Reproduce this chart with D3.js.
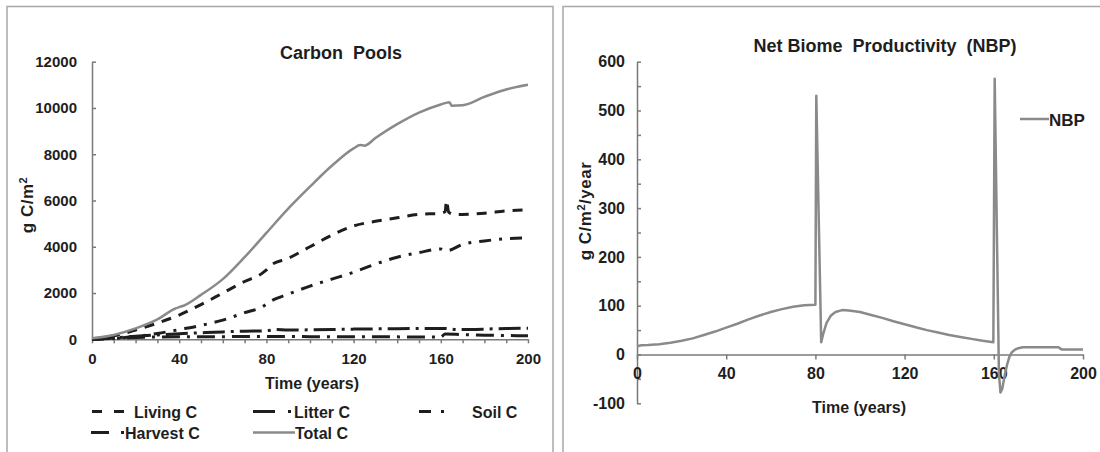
<!DOCTYPE html>
<html>
<head>
<meta charset="utf-8">
<script src="https://cdn.jsdelivr.net/npm/d3@7"></script>
<style>
  body { margin: 0; background: #fff; }
  svg { display: block; font-family: "Liberation Sans", Arial, sans-serif; font-weight: bold; }
</style>
</head>
<body>
<script>
// Carbon pools (g C/m2), [year, value]
const totalC = [[0,50],[10,190],[20,470],[30,860],[38,1320],[40,1390],[42,1450],[50,1920],[60,2600],[70,3550],[80,4600],[90,5650],[100,6600],[110,7500],[120,8250],[123,8400],[125,8370],[130,8700],[140,9300],[150,9800],[160,10150],[164,10250],[165,10100],[170,10120],[180,10480],[190,10800],[200,11000]];
const livingC = [[0,20],[10,150],[20,400],[30,700],[40,1050],[50,1500],[60,2000],[70,2500],[78,2850],[80,3000],[82,3200],[90,3500],[100,4000],[110,4500],[120,4900],[130,5100],[140,5250],[150,5400],[160,5450],[162,5520],[162.6,6000],[163.6,5500],[166,5400],[170,5400],[180,5450],[190,5550],[200,5600]];
const soilC = [[0,0],[10,40],[20,120],[30,250],[40,420],[50,600],[60,830],[70,1150],[78,1400],[82,1650],[90,1950],[100,2300],[110,2600],[120,2900],[130,3250],[140,3550],[150,3750],[160,3900],[162,3820],[164,3850],[170,4100],[180,4250],[190,4350],[200,4380]];
const litterC = [[0,0],[10,60],[20,130],[30,190],[40,240],[50,280],[60,320],[70,350],[80,370],[84,420],[90,400],[100,410],[120,440],[140,460],[160,470],[163,460],[168,420],[180,440],[190,470],[200,480]];
const harvestC = [[0,0],[15,60],[30,100],[50,110],[80,120],[100,115],[120,110],[140,105],[160,100],[162,230],[170,200],[180,180],[190,165],[200,150]];

// Net biome productivity (g C/m2/year), [year, value]
const nbp = [[0,17],[2,19],[5,19.5],[10,21],[15,24],[20,28],[25,33],[30,40],[35,47],[40,55],[45,63],[50,72],[55,80],[60,87],[65,93],[70,98],[75,101],[80,102],
    [80.4,530],[82.6,25],[83.5,42],[85,65],[87,80],[89,87],[92,91],[95,90],[100,87],[105,81],[110,75],[115,68],[120,62],[125,56],[130,50],[135,45],[140,40],[145,36],[150,32],[155,28],[159.8,25],
    [160.4,565],[162.3,-40],[163,-78],[163.8,-70],[165,-40],[166,-20],[167,-5],[168,4],[169.5,10],[171,13],[173,15],[189,15],[190.5,10],[200,10]];

const poolTicks = d3.range(0, 12001, 2000);
const timeTicks = [0, 40, 80, 120, 160, 200];
const nbpTicks = d3.range(-100, 601, 50);

const ink = "#1e1e1e", axisCol = "#7a7a7a", grey = "#8a8a8a";

const svg = d3.select("body").append("svg")
    .attr("width", 1100)
    .attr("height", 452);

// panel frames
svg.append("rect").attr("x", 7).attr("y", 6.5).attr("width", 546).attr("height", 470)
    .attr("fill", "none").attr("stroke", "#a8a8a8").attr("stroke-width", 1.5);
svg.append("rect").attr("x", 563).attr("y", 6.5).attr("width", 560).attr("height", 470)
    .attr("fill", "none").attr("stroke", "#a8a8a8").attr("stroke-width", 1.5);

// ---------- left: Carbon Pools ----------
const x1 = d3.scaleLinear().domain([0, 200]).range([92, 528]);
const y1 = d3.scaleLinear().domain([0, 12000]).range([339.3, 61.7]);

const line1 = d3.line()
    .x(d => x1(d[0]))
    .y(d => y1(d[1]))
    .curve(d3.curveMonotoneX);

const series = [
    {name: "Living C", data: livingC, color: ink, width: 3, dash: "10,8"},
    {name: "Litter C", data: litterC, color: ink, width: 3, dash: "22,6,3,6"},
    {name: "Soil C", data: soilC, color: ink, width: 3, dash: "12,8,3,8"},
    {name: "Harvest C", data: harvestC, color: ink, width: 3, dash: "18,7,3,7"},
    {name: "Total C", data: totalC, color: grey, width: 2.5, dash: null}
];

const gL = svg.append("g");

gL.append("g")
    .attr("transform", `translate(0, ${y1(0)})`)
    .call(d3.axisBottom(x1).tickValues(d3.range(0, 201, 10))
        .tickFormat(d => d % 40 === 0 ? d : "")
        .tickSize(4).tickSizeOuter(0).tickPadding(10))
    .call(styleAxis, 15);

gL.append("g")
    .attr("transform", `translate(${x1(0)}, 0)`)
    .call(d3.axisLeft(y1).tickValues(poolTicks).tickFormat(d3.format("d"))
        .tickSize(-4).tickSizeOuter(0).tickPadding(15))
    .call(styleAxis, 15);

series.forEach(s => {
    gL.append("path")
        .datum(s.data)
        .attr("fill", "none")
        .attr("stroke", s.color)
        .attr("stroke-width", s.width)
        .attr("stroke-dasharray", s.dash)
        .attr("d", line1);
});

gL.append("text")
    .attr("x", 341).attr("y", 59)
    .attr("text-anchor", "middle")
    .attr("font-size", 18).attr("fill", ink)
    .style("white-space", "pre")
    .text("Carbon  Pools");

gL.append("text")
    .attr("x", 312).attr("y", 389)
    .attr("text-anchor", "middle")
    .attr("font-size", 16).attr("fill", ink)
    .text("Time (years)");

const yt1 = gL.append("text")
    .attr("transform", "translate(33, 205) rotate(-90)")
    .attr("text-anchor", "middle")
    .attr("font-size", 17).attr("fill", ink)
    .attr("letter-spacing", 0.5);
yt1.append("tspan").text("g C/m");
yt1.append("tspan").attr("font-size", 11).attr("baseline-shift", "super").text("2");

// legend
const legendPos = [
    {x: 92, y: 411.5, len: 32, tx: 134},
    {x: 253, y: 411.5, len: 38, tx: 294},
    {x: 419, y: 411.5, len: 26, tx: 472},
    {x: 91, y: 432.5, len: 33, tx: 125},
    {x: 253, y: 432.5, len: 42, tx: 295}
];
const legDash = ["10,12", "22,13,3,20", "12,10,3,20", "18,12,3,20", null];

series.forEach((s, i) => {
    const p = legendPos[i];
    gL.append("line")
        .attr("x1", p.x).attr("x2", p.x + p.len)
        .attr("y1", p.y).attr("y2", p.y)
        .attr("stroke", s.color)
        .attr("stroke-width", s.width)
        .attr("stroke-dasharray", legDash[i]);
    gL.append("text")
        .attr("x", p.tx).attr("y", p.y + 6)
        .attr("font-size", 16).attr("fill", ink)
        .text(s.name);
});

// ---------- right: NBP ----------
const x2 = d3.scaleLinear().domain([0, 200]).range([637, 1083]);
const y2 = d3.scaleLinear().domain([-100, 600]).range([403.3, 61.7]);

const gR = svg.append("g");

gR.append("g")
    .attr("transform", `translate(${x2(0)}, 0)`)
    .call(d3.axisLeft(y2).tickValues(nbpTicks)
        .tickFormat(d => d % 100 === 0 ? d : "")
        .tickSize(-4).tickSizeOuter(0).tickPadding(12))
    .call(styleAxis, 16);

gR.append("g")
    .attr("transform", `translate(0, ${y2(0)})`)
    .call(d3.axisBottom(x2).tickValues(timeTicks).tickSize(5).tickSizeOuter(0).tickPadding(8))
    .call(styleAxis, 16);

gR.append("path")
    .datum(nbp)
    .attr("fill", "none")
    .attr("stroke", grey)
    .attr("stroke-width", 2.5)
    .attr("stroke-linejoin", "round")
    .attr("d", d3.line()
        .x(d => x2(d[0]))
        .y(d => y2(d[1])));

gR.append("text")
    .attr("x", 885).attr("y", 51.5)
    .attr("text-anchor", "middle")
    .attr("font-size", 18).attr("fill", ink)
    .style("white-space", "pre")
    .text("Net Biome  Productivity  (NBP)");

gR.append("text")
    .attr("x", 859).attr("y", 413)
    .attr("text-anchor", "middle")
    .attr("font-size", 16).attr("fill", ink)
    .text("Time (years)");

const yt2 = gR.append("text")
    .attr("transform", "translate(591, 211) rotate(-90)")
    .attr("text-anchor", "middle")
    .attr("font-size", 17).attr("fill", ink)
    .attr("letter-spacing", 0.5);
yt2.append("tspan").text("g C/m");
yt2.append("tspan").attr("font-size", 11).attr("baseline-shift", "super").text("2");
yt2.append("tspan").text("/year");

gR.append("line")
    .attr("x1", 1020).attr("x2", 1049)
    .attr("y1", 119).attr("y2", 119)
    .attr("stroke", grey).attr("stroke-width", 2.5);
gR.append("text")
    .attr("x", 1049).attr("y", 125.5)
    .attr("font-size", 17).attr("fill", ink)
    .text("NBP");

function styleAxis(g, size) {
    g.select(".domain").attr("stroke", axisCol).attr("stroke-width", 1.5);
    g.selectAll(".tick line").attr("stroke", axisCol).attr("stroke-width", 1.5);
    g.selectAll(".tick text")
        .attr("fill", ink)
        .attr("font-size", size)
        .attr("font-weight", "bold")
        .attr("font-family", "'Liberation Sans', Arial, sans-serif");
}
</script>
</body>
</html>
